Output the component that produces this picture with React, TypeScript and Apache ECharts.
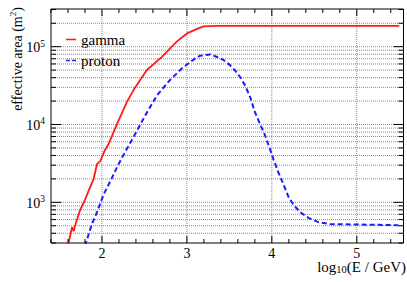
import React, { useEffect, useRef } from 'react';
import * as echarts from 'echarts';

// log10(E / GeV)
const gammaX = [1.6, 1.647, 1.666, 1.694, 1.745, 1.795, 1.842, 1.901, 1.941, 1.98, 2.03, 2.078, 2.195, 2.294, 2.392, 2.529, 2.706, 2.88, 3.0, 3.1, 3.195, 3.35, 4.0, 5.0, 5.5];
// effective area (m^2)
const gammaY = [275, 480, 425, 545, 810, 1040, 1400, 1980, 3090, 3390, 4570, 5620, 11200, 19500, 30200, 50100, 74100, 116000, 148000, 166000, 182000, 185000, 185000, 185000, 185000];

const protonX = [1.8, 1.88, 1.94, 2.02, 2.12, 2.195, 2.27, 2.37, 2.51, 2.647, 2.8, 2.94, 3.098, 3.156, 3.274, 3.35, 3.43, 3.51, 3.57, 3.627, 3.686, 3.745, 3.8, 3.86, 3.92, 3.97, 4.02, 4.078, 4.137, 4.196, 4.254, 4.33, 4.43, 4.55, 4.686, 4.96, 5.49];
const protonY = [275, 519, 741, 1260, 2090, 3090, 4370, 6850, 13100, 23700, 37200, 52500, 70800, 76600, 79400, 74100, 67600, 57500, 49000, 40700, 31600, 22400, 14500, 10200, 7240, 5130, 3550, 2400, 1700, 1175, 933, 750, 631, 556, 525, 519, 508];

const seriesNames = ['gamma', 'proton'];
const xMin = 1.4;
const xMax = 5.55;
const yMin = 300;
const yMax = 305000;

const FONT = 'Liberation Serif';
const RED = '#ff1a1a';
const BLUE = '#1a1aff';

function buildGraphics(chart: any) {
  const els: any[] = [];
  const p0 = chart.convertToPixel({ gridIndex: 0 }, [xMin, yMin]);
  const p1 = chart.convertToPixel({ gridIndex: 0 }, [xMax, yMax]);
  const left = p0[0], bottom = p0[1], right = p1[0], top = p1[1];
  const grid = { stroke: '#8a8a8a', lineWidth: 1, lineDash: [1, 1] };
  const tick = { stroke: '#000', lineWidth: 1 };
  // y grid + ticks
  for (let e = 2; e <= 5; e++) {
    for (let m = 1; m <= 9; m++) {
      const v = m * Math.pow(10, e);
      if (v < yMin || v > yMax) continue;
      const y = chart.convertToPixel({ gridIndex: 0 }, [xMin, v])[1];
      if (Math.abs(y - top) > 2 && Math.abs(y - bottom) > 2) {
        els.push({ type: 'line', silent: true, z: 1, shape: { x1: left, y1: y, x2: right, y2: y }, style: grid });
      }
      const len = m === 1 ? 10 : 5;
      els.push({ type: 'line', silent: true, z: 10, shape: { x1: left, y1: y, x2: left + len, y2: y }, style: tick });
      els.push({ type: 'line', silent: true, z: 10, shape: { x1: right - len, y1: y, x2: right, y2: y }, style: tick });
    }
  }
  // x grid + ticks
  for (let k = 7; k <= 27; k++) {
    const v = k / 5;
    const x = chart.convertToPixel({ gridIndex: 0 }, [v, yMin])[0];
    const major = k % 5 === 0;
    if (major) {
      els.push({ type: 'line', silent: true, z: 1, shape: { x1: x, y1: top, x2: x, y2: bottom }, style: grid });
    }
    const len = major ? 7 : 4;
    els.push({ type: 'line', silent: true, z: 10, shape: { x1: x, y1: bottom, x2: x, y2: bottom - len }, style: tick });
    els.push({ type: 'line', silent: true, z: 10, shape: { x1: x, y1: top, x2: x, y2: top + len }, style: tick });
  }
  // axis titles
  els.push({
    type: 'text', x: 16, y: 59, rotation: Math.PI / 2, z: 20,
    style: {
      text: '{a|effective area (m}{s|2}{a|)}',
      align: 'center', verticalAlign: 'middle',
      rich: {
        a: { fontFamily: FONT, fontSize: 14, fill: '#000', lineHeight: 16, verticalAlign: 'bottom' },
        s: { fontFamily: FONT, fontSize: 9, fill: '#000', lineHeight: 16, verticalAlign: 'top', padding: [0, 0, 6, 0] },
      },
    },
  });
  els.push({
    type: 'text', x: 406, y: 259.5, z: 20,
    style: {
      text: '{a|log}{s|10}{a|(E / GeV)}',
      align: 'right', verticalAlign: 'top',
      rich: {
        a: { fontFamily: FONT, fontSize: 15, fill: '#000', lineHeight: 15, verticalAlign: 'top' },
        s: { fontFamily: FONT, fontSize: 10.5, fill: '#000', lineHeight: 10, verticalAlign: 'bottom', padding: [9, 0, 0, 0] },
      },
    },
  });
  return els;
}

export default function App() {
  const ref = useRef<HTMLDivElement>(null);
  useEffect(() => {
    const chart = echarts.init(ref.current as HTMLDivElement, null, { renderer: 'svg' });
    const option: any = {
      animation: false,
      backgroundColor: '#fff',
      grid: { left: 51, right: 3.5, top: 9, bottom: 39, show: true, borderColor: '#000', borderWidth: 1, backgroundColor: 'transparent' },
      legend: {
        data: [
          { name: seriesNames[0], icon: 'path://M0,0h13v2h-13z' },
          { name: seriesNames[1], icon: 'path://M0,0h5v2h-5zM8,0h5v2h-5z' },
        ],
        orient: 'vertical',
        left: 66,
        top: 32,
        padding: 0,
        itemWidth: 10,
        itemHeight: 2,
        itemGap: 6,
        textStyle: { fontFamily: FONT, fontSize: 15, color: '#000' },
      },
      xAxis: {
        type: 'value',
        min: xMin,
        max: xMax,
        interval: 0.2,
        axisLine: { show: false },
        axisTick: { show: false },
        splitLine: { show: false },
        axisLabel: {
          margin: 4,
          lineHeight: 12,
          showMaxLabel: false,
          fontFamily: FONT,
          fontSize: 14,
          color: '#000',
          formatter: (v: number) => (Math.abs(v - Math.round(v)) < 1e-6 ? String(Math.round(v)) : ''),
        },
      },
      yAxis: {
        type: 'log',
        logBase: 10,
        min: yMin,
        max: yMax,
        axisLine: { show: false },
        axisTick: { show: false },
        splitLine: { show: false },
        axisLabel: {
          margin: 6,
          showMinLabel: false,
          showMaxLabel: false,
          formatter: (v: number) => {
            const e = Math.round(Math.log10(v));
            if (Math.abs(Math.log10(v) - e) > 1e-6) return '';
            return '{b|10}{s|' + e + '}';
          },
          rich: {
            b: { fontFamily: FONT, fontSize: 14, color: '#000', lineHeight: 16, verticalAlign: 'bottom' },
            s: { fontFamily: FONT, fontSize: 9.5, color: '#000', lineHeight: 16, verticalAlign: 'top', padding: [0, 0, 6, 0] },
          },
        },
      },
      series: [
        {
          name: seriesNames[0],
          type: 'line',
          showSymbol: false,
          symbol: 'none',
          clip: true,
          z: 5,
          color: RED,
          lineStyle: { color: RED, width: 1.8, type: 'solid' },
          data: gammaX.map((x, i) => [x, gammaY[i]]),
        },
        {
          name: seriesNames[1],
          type: 'line',
          showSymbol: false,
          symbol: 'none',
          clip: true,
          z: 5,
          color: BLUE,
          lineStyle: { color: BLUE, width: 2, type: [5, 3] },
          data: protonX.map((x, i) => [x, protonY[i]]),
        },
      ],
    };
    chart.setOption(option);
    chart.setOption({ graphic: { elements: buildGraphics(chart) } });
    return () => chart.dispose();
  }, []);
  return <div ref={ref} style={{ position: 'fixed', left: 0, top: 0, width: 407, height: 282 }} />;
}
